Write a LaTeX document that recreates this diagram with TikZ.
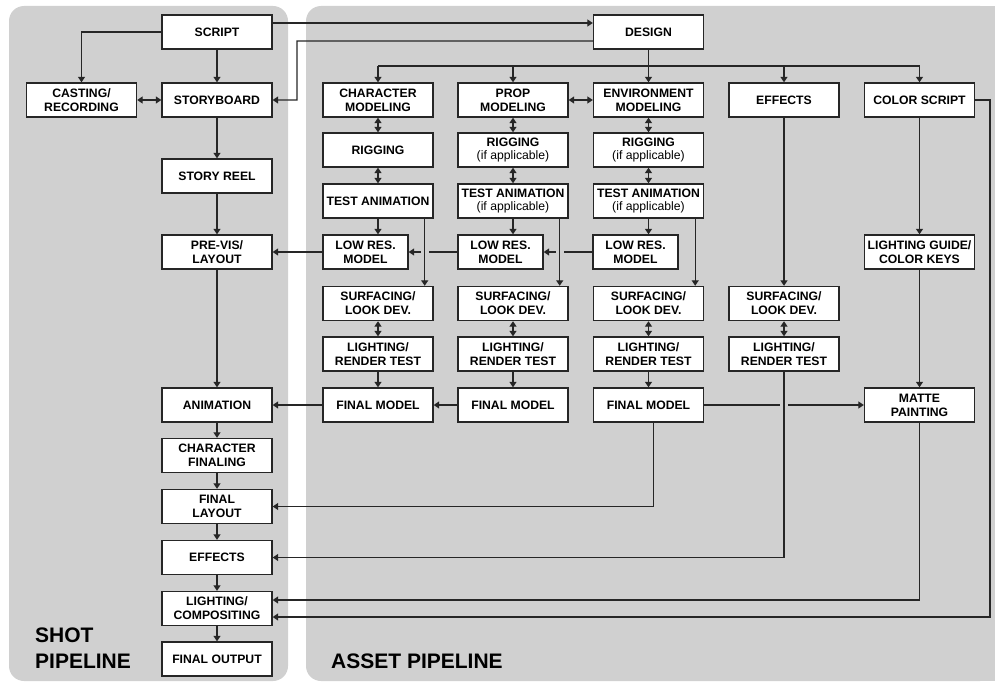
\documentclass[tikz,border=0pt]{standalone}
\usepackage{fontspec}
\setmainfont{Liberation Sans}
\usepackage{xcolor}
\usetikzlibrary{arrows.meta, positioning, calc}
\definecolor{panelgray}{HTML}{D0D0D0}
\definecolor{linegray}{HTML}{262626}
\tikzset{
    stage/.style={rectangle, draw=linegray, fill=white, line width=1.4pt, minimum width=110pt, minimum height=34pt, inner sep=1pt, align=center, font=\bfseries\fontsize{12.2}{13.8}\selectfont},
    lowstage/.style={stage, minimum width=85pt},
    link/.style={line width=1.3pt, draw=linegray},
    flow/.style={link, -{Triangle[width=7pt,length=5.5pt]}},
    twoway/.style={link, {Triangle[width=7pt,length=5.5pt]}-{Triangle[width=7pt,length=5.5pt]}},
    title/.style={inner sep=0pt, font=\bfseries\fontsize{21}{25.6}\selectfont}
}

\begin{document}
\begin{tikzpicture}[x=10pt, y=-10pt]
    \useasboundingbox (0,0) rectangle (99.5,68.2);

    % Panels
    \fill[panelgray, rounded corners=15pt] (0.9,0.6) rectangle (28.8,68.1);
    \fill[panelgray, rounded corners=15pt] (30.6,0.6) rectangle (99.5,68.1);
    \fill[panelgray] (98,0.6) rectangle (99.5,68.1);

    % Panel titles
    \node[title, anchor=south west, align=left] (shottitle) at (3.5,66.83) {SHOT\\PIPELINE};
    \node[title, anchor=base west] (assettitle) at (33.1,66.83) {ASSET PIPELINE};

    % Shot pipeline
    \node[stage] (script) at (21.7,3.2) {SCRIPT};
    \node[stage] (casting) at (8.15,10) {CASTING/\\RECORDING};
    \node[stage] (storyboard) at (21.7,10) {STORYBOARD};
    \node[stage] (storyreel) at (21.7,17.6) {STORY REEL};
    \node[stage] (previs) at (21.7,25.2) {PRE-VIS/\\LAYOUT};
    \node[stage] (animation) at (21.7,40.5) {ANIMATION};
    \node[stage] (finaling) at (21.7,45.55) {CHARACTER\\FINALING};
    \node[stage] (finallayout) at (21.7,50.65) {FINAL\\LAYOUT};
    \node[stage] (shotfx) at (21.7,55.75) {EFFECTS};
    \node[stage] (comp) at (21.7,60.85) {LIGHTING/\\COMPOSITING};
    \node[stage] (output) at (21.7,65.9) {FINAL OUTPUT};

    % Asset pipeline
    \node[stage] (design) at (64.85,3.2) {DESIGN};

    \node[stage] (charmod) at (37.8,10) {CHARACTER\\MODELING};
    \node[stage] (charrig) at (37.8,15) {RIGGING};
    \node[stage] (chartest) at (37.8,20.1) {TEST ANIMATION};
    \node[lowstage] (charlow) at (36.55,25.2) {LOW RES.\\MODEL};
    \node[stage] (charsurf) at (37.8,30.35) {SURFACING/\\LOOK DEV.};
    \node[stage] (charlight) at (37.8,35.4) {LIGHTING/\\RENDER TEST};
    \node[stage] (charfin) at (37.8,40.5) {FINAL MODEL};

    \node[stage] (propmod) at (51.3,10) {PROP\\MODELING};
    \node[stage] (proprig) at (51.3,15) {RIGGING\\{\mdseries(if applicable)}};
    \node[stage] (proptest) at (51.3,20.1) {TEST ANIMATION\\{\mdseries(if applicable)}};
    \node[lowstage] (proplow) at (50.05,25.2) {LOW RES.\\MODEL};
    \node[stage] (propsurf) at (51.3,30.35) {SURFACING/\\LOOK DEV.};
    \node[stage] (proplight) at (51.3,35.4) {LIGHTING/\\RENDER TEST};
    \node[stage] (propfin) at (51.3,40.5) {FINAL MODEL};

    \node[stage] (envmod) at (64.85,10) {ENVIRONMENT\\MODELING};
    \node[stage] (envrig) at (64.85,15) {RIGGING\\{\mdseries(if applicable)}};
    \node[stage] (envtest) at (64.85,20.1) {TEST ANIMATION\\{\mdseries(if applicable)}};
    \node[lowstage] (envlow) at (63.55,25.2) {LOW RES.\\MODEL};
    \node[stage] (envsurf) at (64.85,30.35) {SURFACING/\\LOOK DEV.};
    \node[stage] (envlight) at (64.85,35.4) {LIGHTING/\\RENDER TEST};
    \node[stage] (envfin) at (64.85,40.5) {FINAL MODEL};

    \node[stage] (fx) at (78.4,10) {EFFECTS};
    \node[stage] (fxsurf) at (78.4,30.35) {SURFACING/\\LOOK DEV.};
    \node[stage] (fxlight) at (78.4,35.4) {LIGHTING/\\RENDER TEST};

    \node[stage] (colorscript) at (91.95,10) {COLOR SCRIPT};
    \node[stage] (lightguide) at (91.95,25.2) {LIGHTING GUIDE/\\COLOR KEYS};
    \node[stage] (matte) at (91.95,40.5) {MATTE\\PAINTING};

    % Shot flow
    \foreach \a/\b in {script/storyboard, storyboard/storyreel, storyreel/previs, previs/animation, animation/finaling, finaling/finallayout, finallayout/shotfx, shotfx/comp, comp/output}
        \draw[flow] (\a) -- (\b);
    \draw[flow] (script.west) -| (casting.north);
    \draw[twoway] (casting) -- (storyboard);

    % Script to design and back
    \draw[flow] ([yshift=9pt]script.east) -- ([yshift=9pt]design.west);
    \coordinate (backturn) at (29.7,4.1);
    \draw[flow] ([yshift=-9pt]design.west) -- (backturn) |- (storyboard.east);

    % Design fan-out
    \coordinate (bus) at (0,6.6);
    \draw[link] (charmod.north |- bus) -- (colorscript.north |- bus);
    \foreach \n in {charmod, propmod, fx, colorscript}
        \draw[flow] (\n.north |- bus) -- (\n.north);
    \draw[flow] (design) -- (envmod);
    \draw[twoway] (propmod) -- (envmod);

    % Two-way steps
    \foreach \a/\b in {charmod/charrig, charrig/chartest, propmod/proprig, proprig/proptest, envmod/envrig, envrig/envtest, charsurf/charlight, propsurf/proplight, envsurf/envlight, fxsurf/fxlight}
        \draw[twoway] (\a) -- (\b);

    % Test animation to low res and surfacing
    \foreach \a/\b in {chartest/charlow, proptest/proplow, envtest/envlow}
        \draw[flow] (\a.south) -- (\a.south |- \b.north);
    \coordinate (chardrop) at ([xshift=-9pt]chartest.south east);
    \coordinate (propdrop) at ([xshift=-9pt]proptest.south east);
    \coordinate (envdrop) at ([xshift=-9pt]envtest.south east);
    \draw[flow] (chardrop) -- (chardrop |- charsurf.north);
    \draw[flow] (propdrop) -- (propdrop |- propsurf.north);
    \draw[flow] (envdrop) -- (envdrop |- envsurf.north);

    % Low res models to pre-vis
    \draw[flow] (charlow) -- (previs);
    \draw[link] (proplow) -- ([xshift=4pt]chardrop |- proplow);
    \draw[flow] ([xshift=-4pt]chardrop |- proplow) -- (charlow);
    \draw[link] (envlow) -- ([xshift=4pt]propdrop |- envlow);
    \draw[flow] ([xshift=-4pt]propdrop |- envlow) -- (proplow);

    % Down the columns
    \foreach \a/\b in {charlight/charfin, proplight/propfin, envlight/envfin, fx/fxsurf, colorscript/lightguide, lightguide/matte}
        \draw[flow] (\a) -- (\b);

    % Final models
    \draw[flow] (propfin) -- (charfin);
    \draw[flow] (charfin) -- (animation);
    \draw[link] (envfin) -- ([xshift=-4pt]fxlight.south |- envfin);
    \draw[flow] ([xshift=4pt]fxlight.south |- envfin) -- (matte);

    % Returns to shot pipeline
    \draw[flow] ([xshift=5pt]envfin.south) |- (finallayout.east);
    \draw[flow] (fxlight.south) |- (shotfx.east);
    \draw[flow] (matte.south) |- ([yshift=8.5pt]comp.east);
    \coordinate (rightturn) at (99.0,10);
    \draw[flow] (colorscript.east) -- (rightturn) |- ([yshift=-8.5pt]comp.east);
\end{tikzpicture}
\end{document}
